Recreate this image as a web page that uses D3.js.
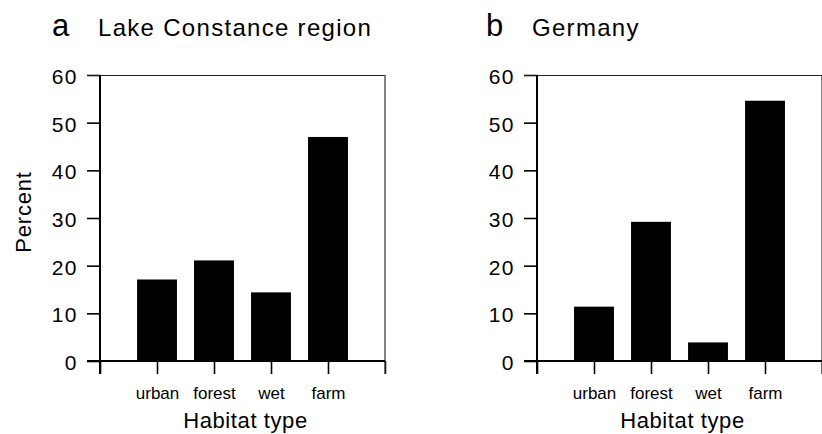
<!DOCTYPE html>
<html>
<head>
<meta charset="utf-8">
<script src="https://cdn.jsdelivr.net/npm/d3@7"></script>
<style>
  html, body { margin: 0; padding: 0; background: #fff; }
  svg { display: block; font-family: "Liberation Sans", Arial, Helvetica, sans-serif; }
</style>
</head>
<body>
<svg id="chart" width="822" height="434"></svg>
<script>
// Share of habitat types (percent)
const categories = ["urban", "forest", "wet", "farm"];
const lakeConstanceValues = [17.1, 21.1, 14.4, 47.0];
const germanyValues = [11.4, 29.2, 3.9, 54.6];
const yTickValues = [0, 10, 20, 30, 40, 50, 60];

const panels = [
  { letter: "a", title: "Lake Constance region", values: lakeConstanceValues, left: 100, yTitle: "Percent", letterDx: -48, titleDx: -2 },
  { letter: "b", title: "Germany", values: germanyValues, left: 537, yTitle: null, letterDx: -51, titleDx: -5 }
];

const plotTop = 75, plotW = 285, plotH = 286, tickLen = 13;

const svg = d3.select("#chart");

// Category positions sit at 1..4 on a 0..5 axis
const x = d3.scaleLinear().domain([0, categories.length + 1]).range([0, plotW]);
const y = d3.scaleLinear().domain([0, 60]).range([plotH, 0]);
const barW = x(0.7) - x(0);

panels.forEach(p => {
  const g = svg.append("g").attr("transform", `translate(${p.left},${plotTop})`);

  // Bars
  g.selectAll("rect.bar")
    .data(p.values)
    .join("rect")
    .attr("class", "bar")
    .attr("x", (d, i) => x(i + 1) - barW / 2)
    .attr("width", barW)
    .attr("y", d => y(d))
    .attr("height", d => y(0) - y(d))
    .attr("fill", "#000");

  // Y axis ticks and labels
  const yAxis = d3.axisLeft(y).tickValues(yTickValues).tickSize(tickLen).tickPadding(9);
  const ya = g.append("g").call(yAxis);
  ya.select(".domain").remove();
  ya.selectAll(".tick line").attr("stroke", "#000").attr("stroke-width", 1.6);
  ya.selectAll(".tick text")
    .attr("fill", "#000")
    .style("font-size", "21px")
    .style("letter-spacing", "1.5px")
    .attr("dy", "0.4em");

  // X axis ticks with category labels
  const xAxis = d3.axisBottom(x)
    .tickValues(d3.range(0, categories.length + 2))
    .tickSize(tickLen)
    .tickPadding(13)
    .tickFormat(i => (i >= 1 && i <= categories.length) ? categories[i - 1] : "");
  const xa = g.append("g").attr("transform", `translate(0,${plotH})`).call(xAxis);
  xa.select(".domain").remove();
  xa.selectAll(".tick line").attr("stroke", "#000").attr("stroke-width", 1.6);
  xa.selectAll(".tick text").attr("fill", "#000").style("font-size", "17px");

  // Frame: thin top and right border, heavy left axis and baseline
  g.append("line").attr("x1", -tickLen).attr("x2", plotW).attr("y1", 0.5).attr("y2", 0.5)
    .attr("stroke", "#222").attr("stroke-width", 1.2);
  g.append("line").attr("x1", plotW).attr("x2", plotW).attr("y1", 0).attr("y2", plotH + tickLen)
    .attr("stroke", "#333").attr("stroke-width", 1.2);
  g.append("line").attr("x1", 0).attr("x2", 0).attr("y1", 0).attr("y2", plotH + tickLen)
    .attr("stroke", "#000").attr("stroke-width", 2);
  g.append("line").attr("x1", -tickLen).attr("x2", plotW).attr("y1", plotH).attr("y2", plotH)
    .attr("stroke", "#000").attr("stroke-width", 2);

  // X axis title
  g.append("text")
    .attr("x", plotW / 2 + 3)
    .attr("y", plotH + 67)
    .attr("text-anchor", "middle")
    .style("font-size", "22px")
    .style("letter-spacing", "0.6px")
    .text("Habitat type");

  // Y axis title
  if (p.yTitle) {
    g.append("text")
      .attr("transform", `translate(-69,${y(30) - 6}) rotate(-90)`)
      .attr("text-anchor", "middle")
      .style("font-size", "22px")
      .style("letter-spacing", "0.8px")
      .text(p.yTitle);
  }

  // Panel letter and title
  g.append("text")
    .attr("x", p.letterDx)
    .attr("y", 36 - plotTop)
    .style("font-size", "31px")
    .text(p.letter);
  g.append("text")
    .attr("x", p.titleDx)
    .attr("y", 36 - plotTop)
    .style("font-size", "24px")
    .style("letter-spacing", "1.3px")
    .text(p.title);
});
</script>
</body>
</html>
